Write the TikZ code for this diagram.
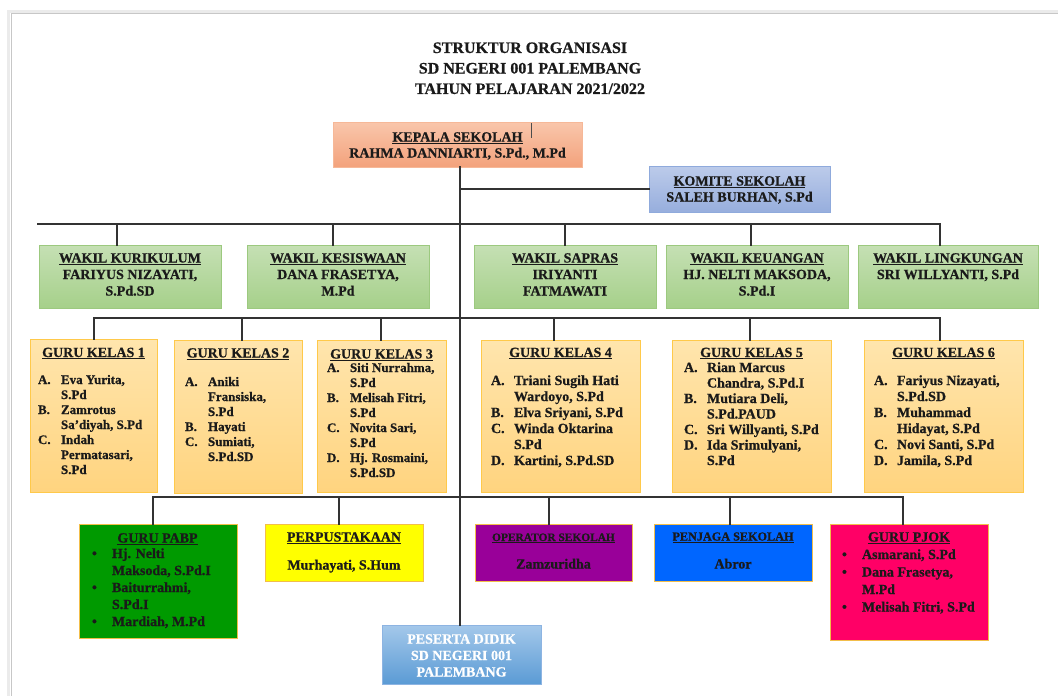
\documentclass[tikz,border=0pt]{standalone}
\usepackage{fontspec}
\setmainfont{Liberation Serif}[BoldFeatures={FakeBold=0.7}]
\definecolor{kepT}{HTML}{F9C6AB}
\definecolor{kepD}{HTML}{F3A27C}
\definecolor{kepB}{HTML}{F6B898}
\definecolor{komT}{HTML}{BCCBEA}
\definecolor{komD}{HTML}{97AEDD}
\definecolor{komB}{HTML}{8FAADC}
\definecolor{wakT}{HTML}{C5E0B4}
\definecolor{wakD}{HTML}{A6D08A}
\definecolor{wakB}{HTML}{9CC97F}
\definecolor{gkT}{HTML}{FFE5AD}
\definecolor{gkD}{HTML}{FFD47F}
\definecolor{gkB}{HTML}{FFC94A}
\definecolor{pabpC}{HTML}{009A00}
\definecolor{perpC}{HTML}{FFFF00}
\definecolor{operC}{HTML}{990099}
\definecolor{penjC}{HTML}{0066FF}
\definecolor{pjokC}{HTML}{FF0066}
\definecolor{botB}{HTML}{F2BE4A}
\definecolor{pesT}{HTML}{A4C8EA}
\definecolor{pesD}{HTML}{5B9BD5}
\definecolor{pesB}{HTML}{8DB4E2}
\definecolor{lineC}{HTML}{333333}
\definecolor{txtC}{HTML}{1A1A1A}
\newcommand{\orgbox}[6]{\node[#2, minimum width=#5pt, minimum height=#6pt] (#1) at (#3,#4) {};}
\tikzset{
  bx/.style={anchor=north west, inner sep=0pt, outer sep=0pt, line width=0.8pt},
  kepala/.style={bx, draw=kepB, top color=kepT, bottom color=kepD},
  komite/.style={bx, draw=komB, top color=komT, bottom color=komD},
  wakil/.style={bx, draw=wakB, top color=wakT, bottom color=wakD},
  guru/.style={bx, draw=gkB, top color=gkT, bottom color=gkD},
  flat/.style={bx, draw=botB, fill=#1},
  peserta/.style={bx, draw=pesB, top color=pesT, bottom color=pesD},
  conn/.style={draw=lineC, line width=1.9pt, line cap=rect},
  tx/.style={inner sep=0pt, outer sep=0pt, text=txtC, font=\bfseries\fontsize{14}{16}\selectfont},
  txs/.style={tx, font=\bfseries\fontsize{13}{15}\selectfont},
}
\newcommand{\lb}[1]{\makebox[23pt][l]{#1}}
\newcommand{\bl}[1]{\makebox[20pt][l]{#1}}
\begin{document}
\begin{tikzpicture}[x=1pt,y=-1pt]
\useasboundingbox (0,0) rectangle (1058,696);
% page edge
\draw[black!8, line width=3pt] (8.5,696) -- (8.5,11) -- (1058,11);
\draw[black!22, line width=1.6pt] (11.5,696) -- (11.5,13.5) -- (1058,13.5);

% title
\node[tx, anchor=north, font=\bfseries\fontsize{16}{20.5}\selectfont] (title) at (530,38.65)
  {\begin{tabular}{@{}c@{}}STRUKTUR ORGANISASI\\SD NEGERI 001 PALEMBANG\\TAHUN PELAJARAN 2021/2022\end{tabular}};

% boxes
\orgbox{kep}{kepala}{333}{122}{249}{45}
\orgbox{kom}{komite}{649}{166}{181}{46}
\orgbox{wk1}{wakil}{39}{245}{182}{63}
\orgbox{wk2}{wakil}{247}{245}{182}{63}
\orgbox{wk3}{wakil}{474}{245}{182}{63}
\orgbox{wk4}{wakil}{666}{245}{182}{63}
\orgbox{wk5}{wakil}{858}{245}{180}{63}
\orgbox{gk1}{guru}{30}{339}{127}{153}
\orgbox{gk2}{guru}{174}{340}{128}{153}
\orgbox{gk3}{guru}{317}{340}{129}{152}
\orgbox{gk4}{guru}{481}{340}{159}{152}
\orgbox{gk5}{guru}{672}{340}{159}{152}
\orgbox{gk6}{guru}{864}{340}{159}{152}
\orgbox{b1}{flat=pabpC}{79}{524}{158}{114}
\orgbox{b2}{flat=perpC}{265}{524}{158}{57}
\orgbox{b3}{flat=operC}{475}{524}{157}{57}
\orgbox{b4}{flat=penjC}{654}{524}{158}{57}
\orgbox{b5}{flat=pjokC}{830}{524}{158}{116}
\orgbox{pes}{peserta}{382}{625}{159}{59}

% small mark in kepala box
\coordinate (mk) at (531,123);
\draw[black!70, line width=0.8pt] (mk) -- ++(0,15);

% texts top
\node[tx, anchor=north] (t-kep) at (457.5,130.3)
  {\begin{tabular}{@{}c@{}}\underline{KEPALA SEKOLAH}\\RAHMA DANNIARTI, S.Pd., M.Pd\end{tabular}};
\node[tx, anchor=north] (t-kom) at (739.5,174.3)
  {\begin{tabular}{@{}c@{}}\underline{KOMITE SEKOLAH}\\SALEH BURHAN, S.Pd\end{tabular}};

% wakil texts
\tikzset{wt/.style={tx, anchor=north, font=\bfseries\fontsize{14}{16.5}\selectfont}}
\node[wt] (t-wk1) at (130,250.95)
  {\begin{tabular}{@{}c@{}}\underline{WAKIL KURIKULUM}\\FARIYUS NIZAYATI,\\S.Pd.SD\end{tabular}};
\node[wt] (t-wk2) at (338,250.95)
  {\begin{tabular}{@{}c@{}}\underline{WAKIL KESISWAAN}\\DANA FRASETYA,\\M.Pd\end{tabular}};
\node[wt] (t-wk3) at (565,250.95)
  {\begin{tabular}{@{}c@{}}\underline{WAKIL SAPRAS}\\IRIYANTI\\FATMAWATI\end{tabular}};
\node[wt] (t-wk4) at (757,250.95)
  {\begin{tabular}{@{}c@{}}\underline{WAKIL KEUANGAN}\\HJ. NELTI MAKSODA,\\S.Pd.I\end{tabular}};
\node[wt] (t-wk5) at (948,250.95)
  {\begin{tabular}{@{}c@{}}\underline{WAKIL LINGKUNGAN}\\SRI WILLYANTI, S.Pd\end{tabular}};

% guru kelas headings
\node[tx, anchor=base] (h-gk1) at (93.5,357) {\underline{GURU KELAS 1}};
\node[tx, anchor=base] (h-gk2) at (238,357.5) {\underline{GURU KELAS 2}};
\node[tx, anchor=base] (h-gk3) at (381.5,358.5) {\underline{GURU KELAS 3}};
\node[tx, anchor=base] (h-gk4) at (560.5,357) {\underline{GURU KELAS 4}};
\node[tx, anchor=base] (h-gk5) at (751.5,357) {\underline{GURU KELAS 5}};
\node[tx, anchor=base] (h-gk6) at (943.5,357) {\underline{GURU KELAS 6}};

% guru kelas lists
\node[txs, anchor=north west] (l-gk1) at (38,373.5)
  {\begin{tabular}{@{}l@{}l@{}}\lb{A.}&Eva Yurita,\\&S.Pd\\\lb{B.}&Zamrotus\\&Sa'diyah, S.Pd\\\lb{C.}&Indah\\&Permatasari,\\&S.Pd\end{tabular}};
\node[txs, anchor=north west] (l-gk2) at (185,375.5)
  {\begin{tabular}{@{}l@{}l@{}}\lb{A.}&Aniki\\&Fransiska,\\&S.Pd\\\lb{B.}&Hayati\\\lb{C.}&Sumiati,\\&S.Pd.SD\end{tabular}};
\node[txs, anchor=north west] (l-gk3) at (327,361.5)
  {\begin{tabular}{@{}l@{}l@{}}\lb{A.}&Siti Nurrahma,\\&S.Pd\\\lb{B.}&Melisah Fitri,\\&S.Pd\\\lb{C.}&Novita Sari,\\&S.Pd\\\lb{D.}&Hj. Rosmaini,\\&S.Pd.SD\end{tabular}};
\node[tx, anchor=north west] (l-gk4) at (491,373.8)
  {\begin{tabular}{@{}l@{}l@{}}\lb{A.}&Triani Sugih Hati\\&Wardoyo, S.Pd\\\lb{B.}&Elva Sriyani, S.Pd\\\lb{C.}&Winda Oktarina\\&S.Pd\\\lb{D.}&Kartini, S.Pd.SD\end{tabular}};
\node[tx, anchor=north west, font=\bfseries\fontsize{14}{15.5}\selectfont] (l-gk5) at (684,361.15)
  {\begin{tabular}{@{}l@{}l@{}}\lb{A.}&Rian Marcus\\&Chandra, S.Pd.I\\\lb{B.}&Mutiara Deli,\\&S.Pd.PAUD\\\lb{C.}&Sri Willyanti, S.Pd\\\lb{D.}&Ida Srimulyani,\\&S.Pd\end{tabular}};
\node[tx, anchor=north west] (l-gk6) at (874,373.8)
  {\begin{tabular}{@{}l@{}l@{}}\lb{A.}&Fariyus Nizayati,\\&S.Pd.SD\\\lb{B.}&Muhammad\\&Hidayat, S.Pd\\\lb{C.}&Novi Santi, S.Pd\\\lb{D.}&Jamila, S.Pd\end{tabular}};

% bottom row texts
\node[tx, anchor=base] (h-b1) at (157.5,542.5) {\underline{GURU PABP}};
\node[tx, anchor=north west, font=\bfseries\fontsize{14}{17}\selectfont] (l-b1) at (92,546.1)
  {\begin{tabular}{@{}l@{}l@{}}\bl{\textbullet}&Hj. Nelti\\&Maksoda, S.Pd.I\\\bl{\textbullet}&Baiturrahmi,\\&S.Pd.I\\\bl{\textbullet}&Mardiah, M.Pd\end{tabular}};
\node[tx, anchor=base] (h-b2) at (344,541.5) {\underline{PERPUSTAKAAN}};
\node[tx, anchor=base] (n-b2) at (344,569.5) {Murhayati, S.Hum};
\node[tx, anchor=base, font=\bfseries\fontsize{11.4}{13}\selectfont] (h-b3) at (553.5,541) {\underline{OPERATOR SEKOLAH}};
\node[tx, anchor=base] (n-b3) at (553.5,568.5) {Zamzuridha};
\node[tx, anchor=base, font=\bfseries\fontsize{12.2}{14}\selectfont] (h-b4) at (733,540.5) {\underline{PENJAGA SEKOLAH}};
\node[tx, anchor=base] (n-b4) at (733,568.5) {Abror};
\node[tx, anchor=base] (h-b5) at (909,541.5) {\underline{GURU PJOK}};
\node[tx, anchor=north west, font=\bfseries\fontsize{14}{17.5}\selectfont] (l-b5) at (842,546.75)
  {\begin{tabular}{@{}l@{}l@{}}\bl{\textbullet}&Asmarani, S.Pd\\\bl{\textbullet}&Dana Frasetya,\\&M.Pd\\\bl{\textbullet}&Melisah Fitri, S.Pd\end{tabular}};

% peserta
\node[tx, text=white, anchor=north, font=\bfseries\fontsize{14}{16.5}\selectfont] (t-pes) at (461.5,631.95)
  {\begin{tabular}{@{}c@{}}PESERTA DIDIK\\SD NEGERI 001\\PALEMBANG\end{tabular}};

% connectors
\coordinate (sp) at (460,0);
\draw[conn] (kep.south -| sp) -- (pes.north -| sp);
\draw[conn] (kom.west) -- (kom.west -| sp);

\coordinate (wbL) at (38,224);
\coordinate (wd1) at (117,224);
\coordinate (wd2) at (333,224);
\coordinate (wd3) at (565,224);
\coordinate (wd4) at (751,224);
\coordinate (wd5) at (940,224);
\draw[conn] (wbL) -- (wd5);
\foreach \i in {1,...,5} \draw[conn] (wd\i) -- (wd\i |- wk\i.north);

\coordinate (kd1) at (94,318);
\coordinate (kd2) at (242,318);
\coordinate (kd3) at (381,318);
\coordinate (kd4) at (554,318);
\coordinate (kd5) at (750,318);
\coordinate (kd6) at (940,318);
\draw[conn] (kd1) -- (kd6);
\foreach \i in {1,...,6} \draw[conn] (kd\i) -- (kd\i |- gk\i.north);

\coordinate (bd1) at (153,497);
\coordinate (bd2) at (339,497);
\coordinate (bd3) at (549,497);
\coordinate (bd4) at (730,497);
\coordinate (bd5) at (903,497);
\draw[conn] (bd1) -- (bd5);
\foreach \i in {1,...,5} \draw[conn] (bd\i) -- (bd\i |- b\i.north);
\end{tikzpicture}
\end{document}
